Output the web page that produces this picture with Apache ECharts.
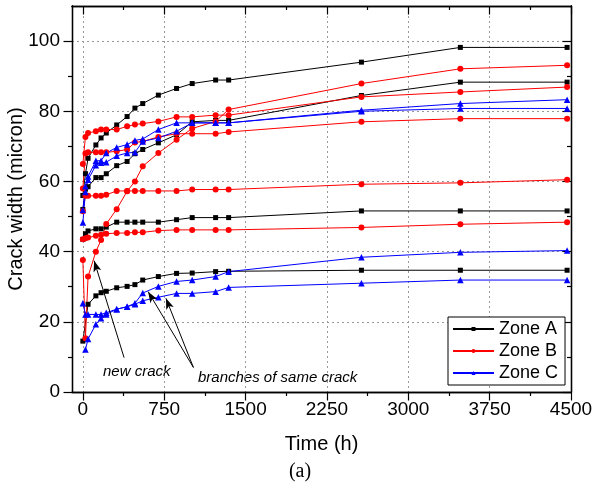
<!DOCTYPE html>
<html lang="en">
<head>
  <meta charset="utf-8">
  <title>Crack width vs time</title>
  <script src="https://cdn.jsdelivr.net/npm/echarts@6/dist/echarts.min.js"></script>
  <style>
    * { margin: 0; padding: 0; }
    html, body, #chart { width: 100%; height: 100%; overflow: hidden; background: #fff; }
  </style>
</head>
<body>
<div id="chart"></div>
<script>
// time of each reading (h), shared by every crack
var hours = [0, 24, 48, 120, 168, 216, 312, 408, 480, 552, 696, 864, 1008, 1224, 1344, 2568, 3480, 4464];

// crack widths (micron), one row per crack
var zoneA = [
  [56.0, 62.2, 66.6, 70.4, 72.4, 73.8, 76.1, 78.5, 80.9, 82.2, 84.6, 86.5, 87.9, 88.9, 88.9, 94.0, 98.2, 98.2],
  [52.0, 57.8, 58.5, 61.1, 61.1, 62.2, 64.5, 65.7, 67.9, 69.1, 71.0, 73.3, 77.0, 77.4, 77.4, 84.5, 88.3, 88.3],
  [43.5, 45.1, 45.9, 46.5, 46.5, 47.0, 48.4, 48.4, 48.4, 48.4, 48.4, 49.1, 49.7, 49.7, 49.7, 51.6, 51.6, 51.6],
  [14.5, null, 25.0, 27.4, 28.3, 28.7, 29.7, 30.1, 30.6, 31.9, 32.9, 33.8, 33.9, 34.3, 34.4, 34.7, 34.7, 34.7]
];
var zoneB = [
  [65.0, 72.7, 73.8, 74.3, 74.8, 74.8, 74.8, 75.7, 76.2, 76.5, 77.1, 78.4, 78.4, 78.9, 78.9, 84.1, 85.5, 86.9],
  [37.6, 15.3, 32.9, 40.0, 43.3, 47.9, 52.1, 57.2, 60.0, 64.3, 68.1, 71.9, 75.1, 77.1, 80.5, 87.9, 92.1, 93.1],
  [58.0, 68.0, 68.3, 68.3, 68.3, 68.3, 68.6, 69.1, 71.1, 71.4, 72.7, 73.6, 73.6, 73.6, 74.1, 77.0, 77.9, 77.9],
  [51.5, 55.9, 55.9, 55.9, 55.9, 56.2, 57.3, 57.3, 57.3, 57.3, 57.3, 57.3, 57.7, 57.7, 57.7, 59.2, 59.6, 60.5],
  [43.5, 43.8, 44.0, 44.5, 44.8, 45.1, 45.3, 45.3, 45.5, 45.5, 46.0, 46.2, 46.2, 46.2, 46.2, 46.9, 47.8, 48.4]
];
var zoneC = [
  [51.9, 58.6, 61.4, 65.9, 65.9, 68.1, 69.7, 70.5, 71.7, 72.1, 74.8, 76.7, 76.7, 76.7, 76.7, 80.3, 82.2, 83.3],
  [48.3, 57.0, 60.5, 64.6, 65.3, 65.5, 67.3, 68.1, 68.3, 71.4, 72.4, 74.3, 76.7, 76.7, 76.7, 80.0, 80.8, 80.8],
  [25.3, 22.1, 22.1, 22.1, 22.1, 22.6, 23.6, 24.3, 25.3, 28.2, 30.1, 31.5, 31.9, 32.9, 34.3, 38.4, 39.8, 40.3],
  [null, 12.1, 15.1, 19.3, 21.0, 22.1, 23.6, 24.3, 25.0, 26.0, 27.0, 28.1, 28.1, 28.6, 29.8, 31.0, 31.9, 31.9]
];

var xTicks = [0, 750, 1500, 2250, 3000, 3750, 4500];
var xMinor = [375, 1125, 1875, 2625, 3375, 4125];
var yTicks = [0, 20, 40, 60, 80, 100];
var yMinor = [10, 30, 50, 70, 90];

var font = 'Liberation Sans, Arial, sans-serif';
var axisColor = '#000';

function pairs(vals) {
  var out = [];
  vals.forEach(function (v, i) {
    if (v !== null) out.push([hours[i], v]);
  });
  return out;
}

function makeAxis(dim, pos, vals, len, major) {
  var outside = pos === 'bottom' || pos === 'left';
  return {
    type: 'value',
    position: pos,
    min: dim === 'x' ? -100 : 0,
    max: dim === 'x' ? 4500 : 110,
    axisLine: { show: true, onZero: false, lineStyle: { color: axisColor, width: 1.3 } },
    axisTick: { show: true, inside: !outside, length: len, customValues: vals,
                lineStyle: { color: axisColor, width: 1.2 } },
    axisLabel: { show: outside && major, customValues: vals, color: '#000',
                 fontSize: 19, fontFamily: font, margin: dim === 'x' ? 8 : 12,
                 formatter: function (v) { return String(v); } },
    splitLine: { show: outside && major,
                 lineStyle: { color: '#999', width: 1, type: [2, 3] } },
    minorTick: { show: false },
    minorSplitLine: { show: false }
  };
}

var xAxes = [
  makeAxis('x', 'bottom', xTicks, 8.5, true),
  makeAxis('x', 'bottom', xMinor, 4, false),
  makeAxis('x', 'top', xTicks, 8.5, false),
  makeAxis('x', 'top', xMinor, 4, false)
];
xAxes[0].name = 'Time (h)';
xAxes[0].nameLocation = 'middle';
xAxes[0].nameGap = 42;
xAxes[0].nameTextStyle = { fontSize: 20, fontFamily: font, color: '#000' };

var yAxes = [
  makeAxis('y', 'left', yTicks, 8.5, true),
  makeAxis('y', 'left', yMinor, 4, false),
  makeAxis('y', 'right', yTicks, 8.5, false),
  makeAxis('y', 'right', yMinor, 4, false)
];
yAxes[0].name = 'Crack width (micron)';
yAxes[0].nameLocation = 'middle';
yAxes[0].nameGap = 46;
yAxes[0].nameRotate = 90;
yAxes[0].nameMoveOverlap = false;
yAxes[0].nameTextStyle = { fontSize: 20, fontFamily: font, color: '#000' };

var series = [];
function addZone(rows, name, color, symbol, size) {
  rows.forEach(function (row) {
    series.push({
      type: 'line',
      name: name,
      data: pairs(row),
      xAxisIndex: 0,
      yAxisIndex: 0,
      symbol: symbol,
      symbolSize: size,
      showAllSymbol: true,
      connectNulls: true,
      lineStyle: { color: color, width: 1 },
      itemStyle: { color: color },
      emphasis: { disabled: true }
    });
  });
}
addZone(zoneA, 'Zone A', '#000000', 'rect', 5);
addZone(zoneB, 'Zone B', '#ff0000', 'circle', 6);
addZone(zoneC, 'Zone C', '#0000ff', 'triangle', 6.5);

// arrows pointing at the new crack and at the two branches
series[3].markLine = {
  silent: true,
  symbol: ['none', 'arrow'],
  symbolSize: [6, 11],
  label: { show: false },
  lineStyle: { color: '#000', width: 1, type: 'solid' },
  emphasis: { disabled: true },
  data: [
    [{ coord: [380, 9.8] }, { coord: [104, 37.4] }],
    [{ coord: [1019, 7.0] }, { coord: [602, 28.6] }],
    [{ coord: [1019, 7.0] }, { coord: [766, 26.7] }]
  ]
};

var option = {
  animation: false,
  backgroundColor: '#fff',
  grid: { left: 72, right: 24, top: 6, bottom: 90, containLabel: false, outerBoundsMode: 'none' },
  xAxis: xAxes,
  yAxis: yAxes,
  legend: {
    data: ['Zone A', 'Zone B', 'Zone C'],
    orient: 'vertical',
    left: 448,
    top: 317,
    padding: [3, 7, 3, 4],
    itemGap: 4,
    itemWidth: 41,
    itemHeight: 5,
    borderColor: '#000',
    borderWidth: 1,
    borderRadius: 0,
    backgroundColor: '#fff',
    selectedMode: false,
    textStyle: { fontSize: 18, fontFamily: font, color: '#000' }
  },
  graphic: [
    { type: 'text', left: 103, top: 364,
      style: { text: 'new crack', font: 'italic 15px Liberation Sans', fill: '#000' } },
    { type: 'text', left: 198, top: 370,
      style: { text: 'branches of same crack', font: 'italic 15px Liberation Sans', fill: '#000' } },
    { type: 'text', x: 300, y: 472,
      style: { text: '(a)', font: '20px Liberation Serif', fill: '#000',
               textAlign: 'center', textVerticalAlign: 'middle' } }
  ],
  series: series
};

var chart = echarts.init(document.getElementById('chart'));
chart.setOption(option);
</script>
</body>
</html>
